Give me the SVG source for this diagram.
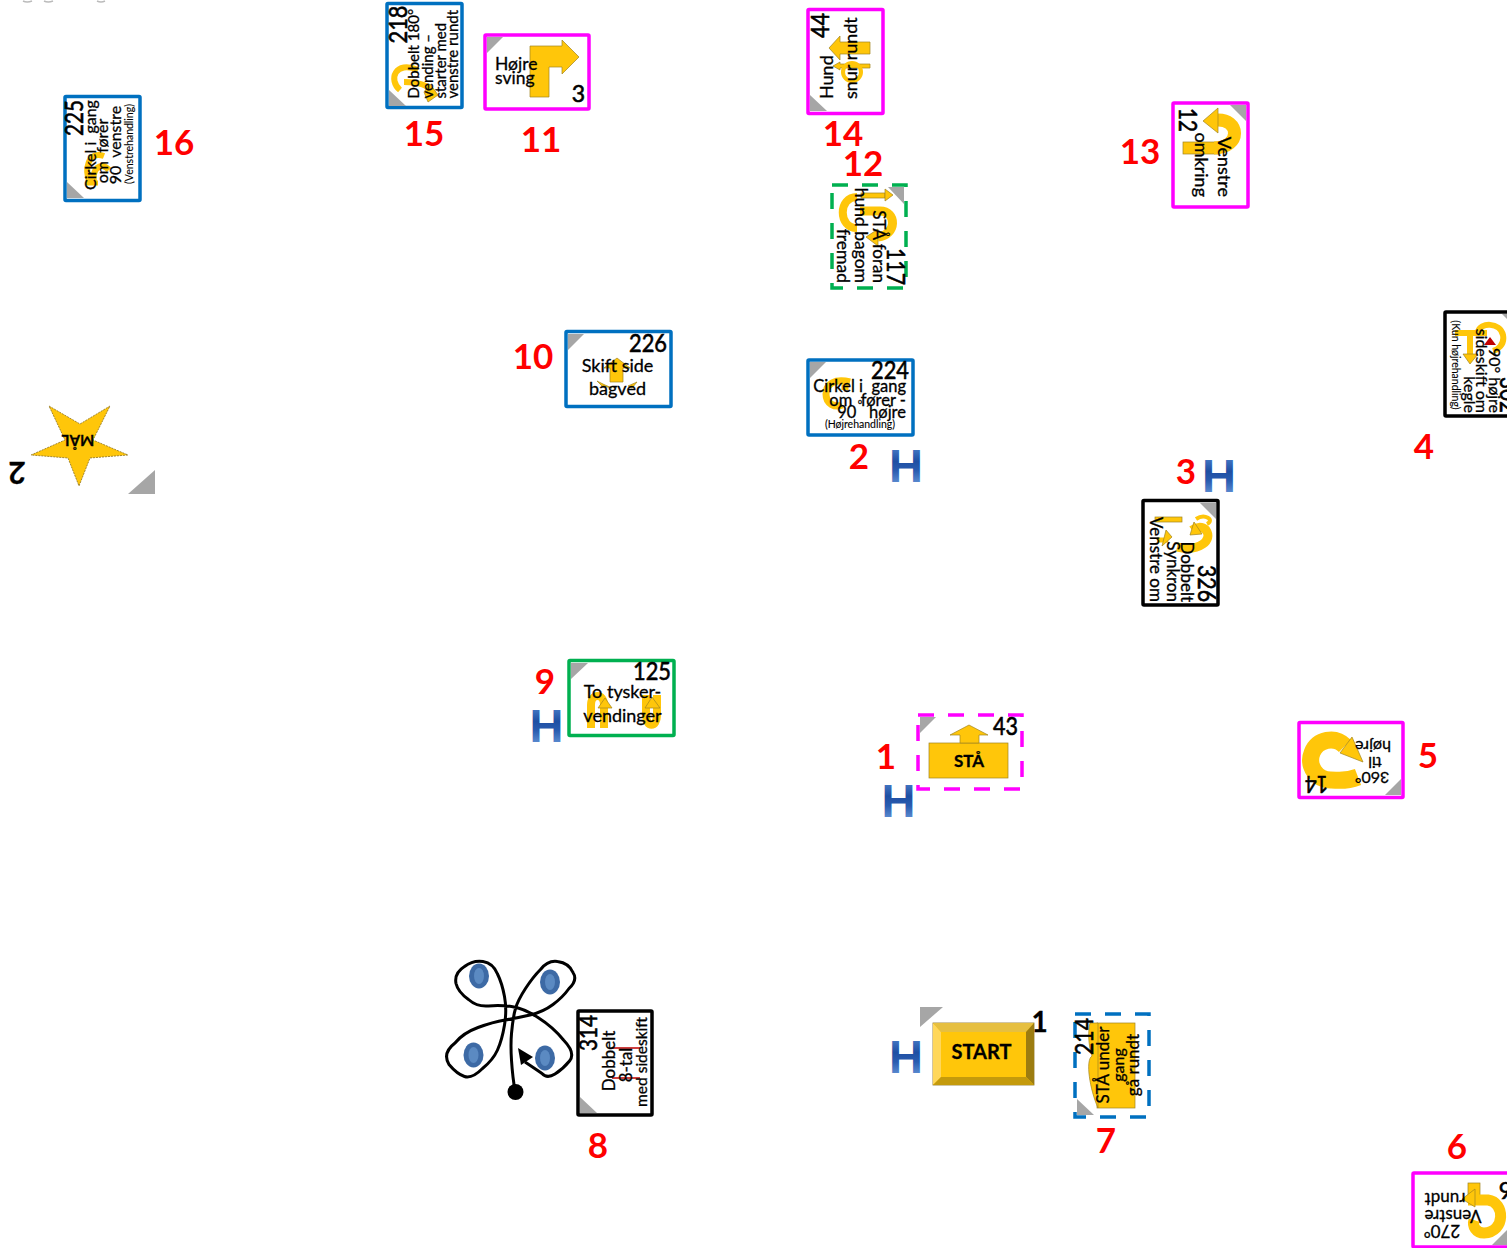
<svg xmlns="http://www.w3.org/2000/svg" width="1507" height="1248" viewBox="0 0 1507 1248">
<style>
text{font-family:Lato,"Liberation Sans",sans-serif;fill:#000;stroke:#000;stroke-width:.3;white-space:pre}
.box{fill:#fff;stroke-width:3.5;stroke-linejoin:round}
.blue{stroke:#0070c0}.mag{stroke:#f0f}.blk{stroke:#000}.grn{stroke:#00b050}
.dash{stroke-dasharray:16 14;stroke-linejoin:miter}
.tri{fill:#a6a6a6}
.y{fill:#ffc60a;stroke:#a08420;stroke-width:.7}
.yl{fill:none;stroke:#ffc60a;stroke-linecap:butt}
text.r{font-weight:700;font-size:35px;fill:#f00;stroke:none;text-anchor:middle}
text.n{font-size:25px;text-anchor:end;stroke-width:.6}
.s{font-size:16px;text-anchor:middle}
.e{font-size:16px;text-anchor:end}
.l{font-size:15px}
text.tiny{font-size:10.5px;text-anchor:middle;stroke-width:.1}
text.H{font-family:"Liberation Sans",sans-serif;font-weight:700;font-size:47px;text-anchor:middle;fill:url(#hg);stroke:none}
.rm{stroke:#c00000;stroke-width:1.5}
</style>
<defs>
<linearGradient id="hg" x1="0" y1="0" x2="0" y2="1">
<stop offset="0" stop-color="#5f95dc"/><stop offset=".42" stop-color="#1f4fa3"/><stop offset=".6" stop-color="#2a5cb0"/><stop offset="1" stop-color="#80aee8"/>
</linearGradient>
</defs>
<g id="connectors"/>
<path d="M23,1Q27,3 32,1M44,1Q48,3 53,1M97,1Q101,3 105,1" fill="none" stroke="#bbb" stroke-width="1.5"/>

<g id="labels">
<text class="r" x="174" y="155">16</text>
<text class="r" x="424" y="146">15</text>
<text class="r" x="541" y="152">11</text>
<text class="r" x="843" y="146">14</text>
<text class="r" x="863" y="176">12</text>
<text class="r" x="1140" y="164">13</text>
<text class="r" x="533" y="369">10</text>
<text class="r" x="859" y="469">2</text>
<text class="r" x="1186" y="484">3</text>
<text class="r" x="1424" y="459">4</text>
<text class="r" x="545" y="694">9</text>
<text class="r" x="886" y="769">1</text>
<text class="r" x="1428" y="768">5</text>
<text class="r" x="598" y="1158">8</text>
<text class="r" x="1106" y="1153">7</text>
<text class="r" x="1457" y="1159">6</text>
</g>
<g id="handlers">
<text class="H" x="906" y="482">H</text>
<text class="H" x="1219" y="492">H</text>
<text class="H" x="546.500" y="742">H</text>
<text class="H" x="898.500" y="817">H</text>
<text class="H" x="906" y="1073">H</text>
</g>

<g id="node-225">
<rect class="box blue" x="65" y="96.500" width="75" height="104" rx="1"/>
<polygon class="tri" points="67,182 67,198 84,198"/>
<path class="yl" stroke-width="6" d="M104,156C88,150 84,170 90,183M109,170C100,160 92,170 94,182"/>
<path class="yl" stroke-width="5" d="M86,183H98"/>
<g transform="translate(102.500,148) rotate(-90)">
<text class="n" x="48" y="-19.500" textLength="36" lengthAdjust="spacingAndGlyphs">225</text>
<text class="s" x="3" y="-6.500" style="font-size:16px">Cirkel i  gang</text>
<text class="s" x="-3" y="5.500" style="font-size:16px">om  fører</text>
<text class="s" x="3" y="18.500" style="font-size:16px">90  venstre</text>
<text class="tiny" x="4" y="30">(Venstrehandling)</text>
</g>
</g>

<g id="node-218">
<rect class="box blue" x="387" y="3.500" width="75" height="104" rx="1"/>
<polygon class="tri" points="389,90 389,106 406,106"/>
<path class="yl" stroke-width="6" d="M418,70C395,60 388,80 400,90M404,82C415,82 428,84 432,92"/>
<polygon class="y" points="430,84 438,95 428,102 424,92"/>
<g transform="translate(424.500,55.500) rotate(-90)">
<text class="n" x="50" y="-18" textLength="38" lengthAdjust="spacingAndGlyphs">218</text>
<text class="l" x="-43" y="-5.500">Dobbelt 180°</text>
<text class="l" x="-43" y="8">vending –</text>
<text class="l" x="-43" y="21">starter med</text>
<text class="l" x="-43" y="33.500">venstre rundt</text>
</g>
</g>

<g id="node-3">
<rect class="box mag" x="485" y="35" width="104" height="74" rx="1"/>
<polygon class="tri" points="487,37 503,37 487,53"/>
<polygon class="y" points="530,97 549,97 549,67 562,67 562,74 579,57 562,40 562,46 530,46"/>
<text class="l" x="495" y="70" style="font-size:17.500px">Højre</text>
<text class="l" x="495" y="84" style="font-size:17.500px">sving</text>
<text class="n" x="585" y="102" style="font-size:23px">3</text>
</g>

<g id="node-44">
<rect class="box mag" x="808" y="9.500" width="75" height="104" rx="1"/>
<polygon class="tri" points="810,95 810,111 827,111"/>
<polygon class="y" points="829,48 840,36 840,42 870,42 870,54 840,54 840,60"/>
<polygon class="y" points="833,66 840,62 840,64 870,64 870,68 840,68 840,70"/>
<circle cx="852" cy="72" r="9" fill="none" stroke="#ffc60a" stroke-width="4"/>
<g transform="translate(845.500,61) rotate(-90)">
<text class="n" x="48" y="-16.500" textLength="25" lengthAdjust="spacingAndGlyphs">44</text>
<text class="l" x="-38" y="-12.500" style="font-size:18px">Hund</text>
<text class="l" x="-38" y="11.500" style="font-size:18px">snur rundt</text>
</g>
</g>

<g id="node-12">
<rect class="box mag" x="1173" y="103" width="75" height="104" rx="1"/>
<polygon class="tri" points="1246,105 1230,105 1246,121"/>
<rect class="y" x="1183" y="142" width="37" height="12"/>
<path class="yl" stroke-width="13" d="M1214,148C1242,148 1240,118 1216,120"/>
<polygon class="y" points="1218,108 1203,121 1218,133"/>
<g transform="translate(1210.500,155) rotate(90)">
<text class="n" x="-23" y="31.500" textLength="24" lengthAdjust="spacingAndGlyphs">12</text>
<text class="e" x="42" y="15.500" style="font-size:18px">omkring</text>
<text class="e" x="42" y="-7.500" style="font-size:18px">Venstre</text>
</g>
</g>

<g id="node-117">
<rect class="box grn dash" x="832" y="185" width="74" height="103"/>
<polygon class="tri" points="904,187 888,187 904,204"/>
<path class="yl" stroke-width="8" d="M857,197C838,197 838,228 857,228"/>
<rect class="y" x="861" y="193" width="24" height="5"/>
<polygon class="y" points="885,189 893,195 885,201"/>
<path class="yl" stroke-width="9" d="M860,211H880C897,211 897,235 878,237"/>
<polygon class="y" points="878,229 866,237 878,246"/>
<g transform="translate(869,236.500) rotate(90)">
<text class="n" x="48.500" y="-18" textLength="37" lengthAdjust="spacingAndGlyphs">117</text>
<text class="e" x="46.500" y="-4" style="font-size:17px">STÅ foran</text>
<text class="e" x="46.500" y="14" style="font-size:17.500px">hund bagom</text>
<text class="e" x="46.500" y="32" style="font-size:17.500px">fremad</text>
</g>
</g>

<g id="node-226">
<rect class="box blue" x="566" y="331.500" width="105" height="75" rx="1"/>
<polygon class="tri" points="568,334 584,334 568,350"/>
<polygon class="y" points="610,382 610,368 604,368 617,358 630,368 623,368 623,382"/>
<path class="y" d="M597,381L605,385L612,388L602,386ZM628,386L637,382L632,388Z"/>
<text class="n" x="667" y="352" textLength="38" lengthAdjust="spacingAndGlyphs">226</text>
<text class="s" x="617.500" y="372" style="font-size:18px">Skift side</text>
<text class="s" x="617.500" y="395" style="font-size:18px">bagved</text>
</g>

<g id="node-224">
<rect class="box blue" x="808" y="360" width="105" height="75" rx="1"/>
<polygon class="tri" points="810,362 826,362 810,378"/>
<path class="yl" stroke-width="7" d="M850,382C835,378 826,384 826,394C826,404 835,408 842,405M845,383V390"/>
<text class="n" x="909" y="379" textLength="38" lengthAdjust="spacingAndGlyphs">224</text>
<text class="e" x="906" y="392" style="font-size:16.500px">Cirkel i  gang</text>
<text class="e" x="906" y="406" style="font-size:16.500px">om  fører -</text>
<text class="e" x="906" y="418" style="font-size:16.500px">90   højre</text>
<text x="858" y="404" style="font-size:7px">o</text>
<text class="tiny" x="860" y="428" style="font-size:10.500px">(Højrehandling)</text>
</g>

<g id="node-302">
<rect class="box blk" x="1445" y="312" width="75" height="104" rx="1"/>
<polygon class="tri" points="1518,314 1502,314 1518,330"/>
<path class="yl" stroke-width="6" d="M1455,333H1487M1470,333V355"/>
<polygon class="y" points="1463,354 1478,354 1470,364"/>
<path class="yl" stroke-width="6" d="M1478,332C1480,322 1500,322 1503,335C1505,345 1497,350 1493,351"/>
<polygon points="1490,337 1496,345 1484,345" fill="#c00000"/>
<g transform="translate(1482.500,364) rotate(90)">
<text class="n" x="49" y="-17.500" textLength="36" lengthAdjust="spacingAndGlyphs">302</text>
<text class="e" x="49" y="-6.500">90° højre</text>
<text class="e" x="49" y="6.500">sideskift om</text>
<text class="e" x="49" y="18.500">kegle</text>
<text class="tiny" x="1" y="30.500">(Kun højrehandling)</text>
</g>
</g>

<g id="node-326">
<rect class="box blk" x="1143" y="500.500" width="75" height="104.500" rx="1"/>
<polygon class="tri" points="1216,503 1200,503 1216,519"/>
<rect class="y" x="1155" y="517" width="27" height="5"/>
<path class="yl" stroke-width="9" d="M1177,547C1200,552 1213,540 1206,530C1202,526 1196,527 1192,530"/>
<polygon class="y" points="1194,522 1190,535 1202,534"/>
<path class="yl" stroke-width="4" d="M1196,519C1205,513 1215,520 1207,524"/>
<path class="yl" stroke-width="5" d="M1157,540L1168,540"/>
<polygon class="y" points="1166,530 1172,537 1162,546"/>
<g transform="translate(1180.500,552.500) rotate(90)">
<text class="n" x="49.500" y="-17.500" textLength="37" lengthAdjust="spacingAndGlyphs">326</text>
<text class="e" x="49.500" y="-.500" style="font-size:17px">Dobbelt</text>
<text class="e" x="49.500" y="13.500" style="font-size:17px">Synkron</text>
<text class="e" x="49.500" y="30.500" style="font-size:17px">Venstre om</text>
</g>
</g>

<g id="node-125">
<rect class="box grn" x="569" y="660.500" width="105" height="75" rx="1"/>
<polygon class="tri" points="571,663 588,663 571,679"/>
<path class="yl" stroke-width="8" d="M591,728V705C591,693 604,693 604,705V728"/>
<polygon class="y" points="598,708 612,708 605,698"/>
<path class="yl" stroke-width="8" d="M646,695V715C646,728 657,728 657,715V695"/>
<polygon class="y" points="645,708 660,708 652,697"/>
<text class="n" x="671" y="680" textLength="38" lengthAdjust="spacingAndGlyphs">125</text>
<text class="s" x="622.500" y="698" style="font-size:18px">To tysker-</text>
<text class="s" x="622.500" y="722" style="font-size:18px">vendinger</text>
</g>

<g id="node-43">
<rect class="box mag dash" x="918" y="715" width="104" height="74"/>
<polygon class="tri" points="920,717 936,717 920,733"/>
<rect class="y" x="929" y="743" width="79" height="35"/>
<polygon class="y" points="950,735 969,725 988,735 979,735 979,743 960,743 960,735"/>
<text class="s" x="969" y="767" style="font-size:17px;font-weight:700">STÅ</text>
<text class="n" x="1018" y="735" textLength="25" lengthAdjust="spacingAndGlyphs">43</text>
</g>

<g id="node-14">
<rect class="box mag" x="1299" y="722.500" width="104" height="75" rx="1"/>
<polygon class="tri" points="1401,795 1385,795 1401,779"/>
<path class="yl" stroke-width="17" d="M1358,777C1345,782 1338,780 1331,780A20,20 0 1 1 1345,746"/>
<polygon class="y" points="1340,753 1363,762 1352,737"/>
<g transform="translate(1351,759.500) rotate(180)">
<text class="n" x="46" y="-16.500" style="font-size:23px" textLength="23" lengthAdjust="spacingAndGlyphs">14</text>
<text class="s" x="-21" y="-12.500" style="font-size:16px">360°</text>
<text class="s" x="-24" y="2.500" style="font-size:16px">til</text>
<text class="s" x="-22" y="18.500" style="font-size:16px">højre</text>
</g>
</g>

<g id="node-314">
<rect class="box blk" x="578" y="1011" width="74" height="104" rx="1"/>
<polygon class="tri" points="580,1097 580,1113 597,1113"/>
<path class="rm" fill="none" d="M612,1048H640M612,1078H640"/>
<g transform="translate(615,1063) rotate(-90)">
<text class="n" x="48" y="-18" textLength="36" lengthAdjust="spacingAndGlyphs">314</text>
<text class="s" x="2" y="0" style="font-size:17px">Dobbelt</text>
<text class="s" x="-2" y="17" style="font-size:17px">8-tal</text>
<text class="s" x="1" y="32" style="font-size:15.500px">med sideskift</text>
</g>
</g>

<g id="figure-8">
<ellipse cx="479" cy="976" rx="10" ry="12.500" fill="#3d6aa5"/><ellipse cx="479" cy="976" rx="5" ry="8" fill="#5b8ac2"/>
<ellipse cx="550" cy="982" rx="10" ry="12.500" fill="#3d6aa5"/><ellipse cx="550" cy="982" rx="5" ry="8" fill="#5b8ac2"/>
<ellipse cx="473.500" cy="1055" rx="10" ry="12.500" fill="#3d6aa5"/><ellipse cx="473.500" cy="1055" rx="5" ry="8" fill="#5b8ac2"/>
<ellipse cx="545" cy="1058" rx="10" ry="12.500" fill="#3d6aa5"/><ellipse cx="545" cy="1058" rx="5" ry="8" fill="#5b8ac2"/>
<path fill="none" stroke="#000" stroke-width="3" stroke-linejoin="round" d="M515,1092L513,1077Q510,1050 511.500,1033.500Q513,1017 515.500,1008.500Q518,1000 525.500,988.500Q533,977 540.500,969.500Q548,960 557.500,961.500Q569,963 573,972.500Q578,980 569,988.500Q563,997 553,1004.500Q543,1012 530,1015Q517,1018 505,1020Q493,1022 478,1027.500Q463,1033 455,1043Q442,1053 449,1064.500Q457,1074 464.500,1076.500Q472,1079 482.500,1068.500Q493,1060 497.500,1050Q502,1040 504.500,1025Q507,1010 504.500,996.500Q502,983 497.500,974Q493,963 483,961.500Q473,960 464.500,966.500Q454,973 456,983.500Q458,992 468.500,999.500Q477,1007 488.500,1006Q500,1005 511.500,1006.500Q523,1008 538,1017.500Q553,1027 563.500,1040Q576,1053 569.500,1061Q563,1069 555,1074Q547,1079 542,1073.500Q537,1070 525,1062"/>
<circle cx="515.500" cy="1092" r="8"/>
<polygon points="518,1048 533,1057 521,1065"/>
</g>

<g id="node-1">
<polygon class="tri" points="920,1007 943,1007 920,1027"/>
<rect x="933" y="1023" width="101" height="62" fill="#ffc60a" stroke="#8a7020" stroke-width=".8"/>
<polygon points="933,1023 941,1032 941,1077 933,1085" fill="#ffd75a"/>
<polygon points="933,1023 1034,1023 1026,1032 941,1032" fill="#e6bf40"/>
<polygon points="1034,1023 1026,1032 1026,1077 1034,1085" fill="#9c7c10"/>
<polygon points="933,1085 941,1077 1026,1077 1034,1085" fill="#c49a0c"/>
<text class="s" x="981.500" y="1059" style="font-size:20px;font-weight:700">START</text>
<text class="s" x="1039.500" y="1032" style="font-size:28px;font-weight:700">1</text>
</g>

<g id="node-214">
<rect class="box blue dash" x="1075" y="1014" width="74" height="103"/>
<polygon class="tri" points="1077,1099 1077,1115 1094,1115"/>
<rect class="y" x="1097" y="1023" width="38" height="85"/>
<path class="y" d="M1090,1023H1098V1108C1090,1090 1085,1060 1092,1056C1088,1045 1088,1030 1090,1023Z"/>
<g transform="translate(1111.500,1065) rotate(-90)">
<text class="n" x="47" y="-18.500" textLength="37" lengthAdjust="spacingAndGlyphs">214</text>
<text class="s" x="0" y="-2.500" style="font-size:17px">STÅ under</text>
<text class="s" x="0" y="12.500">gang</text>
<text class="s" x="0" y="27.500" style="font-size:17px">gå rundt</text>
</g>
</g>

<g id="node-5">
<rect class="box mag" x="1413" y="1173" width="107" height="74" rx="1"/>
<polygon class="tri" points="1507,1230 1507,1245 1492,1245"/>
<rect class="y" x="1468" y="1183" width="12" height="17"/>
<path class="yl" stroke-width="11" d="M1468,1200H1488C1505,1202 1506,1232 1484,1233C1476,1233 1472,1226 1474,1220"/>
<polygon class="y" points="1475,1189 1462,1199 1475,1207"/>
<g transform="translate(1466,1210) rotate(180)">
<text class="n" x="-33" y="28" style="font-size:23px">6</text>
<text class="s" x="24" y="-15" style="font-size:17px">270°</text>
<text class="s" x="13" y="0" style="font-size:17px">Venstre</text>
<text class="s" x="21" y="17" style="font-size:17px">rundt</text>
</g>
</g>

<g id="node-goal">
<polygon points="49,406 80,424 110,406 93,440 128,455 90,458 79,486 68,458 31,455 65,440" fill="#ffc60a" stroke="#8a7020" stroke-width=".8" stroke-dasharray="2 1"/>
<text class="s" transform="translate(78,435) rotate(180)" style="font-size:15px;font-weight:700">MÅL</text>
<text class="s" transform="translate(17,462) rotate(180)" style="font-size:30px;font-weight:700">2</text>
<polygon class="tri" points="155,470 155,494 128,494"/>
</g>
</svg>
